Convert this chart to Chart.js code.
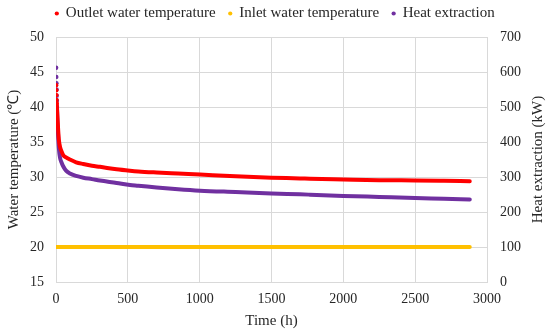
<!DOCTYPE html>
<html>
<head>
<meta charset="utf-8">
<script src="https://cdn.jsdelivr.net/npm/chart.js@4/dist/chart.umd.min.js"></script>
<style>
  html, body { margin: 0; padding: 0; background: #fff; }
  #wrap { width: 550px; height: 335px; position: relative; }
</style>
</head>
<body>
<div id="wrap"><canvas id="chart"></canvas></div>
<script>
// values
const outletTime = [1, 2, 3, 4, 5, 8, 12, 16, 20, 28, 40, 51, 70, 97, 140, 190, 250, 306, 422, 515, 573, 700, 850, 1002, 1250, 1500, 1698, 1768, 2000, 2250, 2500, 2700, 2880];
const outletTemp = [43.1, 42.4, 41.7, 41.0, 40.5, 39.3, 37.8, 36.4, 35.3, 34.3, 33.6, 33.1, 32.8, 32.5, 32.1, 31.85, 31.6, 31.45, 31.1, 30.9, 30.8, 30.65, 30.5, 30.35, 30.1, 29.9, 29.8, 29.75, 29.65, 29.55, 29.5, 29.45, 29.4];

const inletTime = [0, 2880];
const inletTemp = [20, 20];

const heatTime = [1, 2, 3, 4, 5, 6, 7, 9, 12, 16, 20, 28, 40, 51, 70, 97, 140, 190, 250, 306, 422, 515, 573, 700, 850, 1002, 1250, 1500, 1698, 1768, 2000, 2250, 2500, 2700, 2880];
const heatKW = [612, 586, 568, 550, 532, 518, 500, 470, 440, 408, 382, 355, 340, 330, 318, 310, 303, 298, 294, 290, 283, 277, 275, 270, 265, 261, 257, 253, 250.5, 249.5, 246, 243, 240, 238, 236];

const outletDots = 5;   // separate dots at the start
const heatDots = 7;

const RED = "#FF0000";
const ORANGE = "#FFC000";
const PURPLE = "#7030A0";
const GRID = "#D9D9D9";
const TEXT = "#262626";
const FONT = "'Liberation Serif', 'Times New Roman', serif";

Chart.defaults.font.family = FONT;
Chart.defaults.font.size = 14;
Chart.defaults.color = TEXT;

const toXY = (xs, ys) => xs.map((x, i) => ({ x: x, y: ys[i] }));

function dotSeries(label, xs, ys, color, axis, nDots) {
  return {
    label: label,
    data: toXY(xs, ys),
    yAxisID: axis,
    borderColor: color,
    backgroundColor: color,
    borderWidth: 4,
    borderCapStyle: "round",
    cubicInterpolationMode: "monotone",
    pointRadius: (ctx) => (ctx.dataIndex < nDots ? 2.2 : 0),
    pointBorderWidth: 0,
    pointBackgroundColor: color,
    segment: {
      borderColor: (ctx) => (ctx.p0DataIndex < nDots - 1 ? "rgba(0,0,0,0)" : undefined),
    },
  };
}

// right axis title reads bottom-to-top like the left one
const rightTitle = {
  id: "rightTitle",
  afterDraw(chart) {
    const area = chart.chartArea;
    const c = chart.ctx;
    c.save();
    c.translate(538, (area.top + area.bottom) / 2);
    c.rotate(-Math.PI / 2);
    c.font = "15px " + FONT;
    c.fillStyle = TEXT;
    c.textAlign = "center";
    c.textBaseline = "middle";
    c.fillText("Heat extraction (kW)", 0, 0);
    c.restore();
  },
};

// legend box height fixed so the plot starts where the reference does
const legendHeight = {
  id: "legendHeight",
  beforeUpdate(chart) {
    const lg = chart.legend;
    if (lg && !lg._patched) {
      const fit = lg.fit;
      lg.fit = function () {
        fit.call(this);
        this.height = 44;
      };
      lg._patched = true;
    }
  },
};

const ctx = document.getElementById("chart").getContext("2d");
new Chart(ctx, {
  type: "line",
  data: {
    datasets: [
      dotSeries("Outlet water temperature", outletTime, outletTemp, RED, "yT", outletDots),
      dotSeries("Inlet water temperature", inletTime, inletTemp, ORANGE, "yT", 0),
      dotSeries("Heat extraction", heatTime, heatKW, PURPLE, "yQ", heatDots),
    ],
  },
  options: {
    responsive: true,
    maintainAspectRatio: false,
    animation: false,
    layout: { padding: { top: -7, left: 0, right: 0, bottom: 0 } },
    scales: {
      x: {
        type: "linear",
        min: 0,
        max: 3000,
        ticks: { stepSize: 500, padding: 9, color: TEXT, maxRotation: 0, callback: (v) => String(v) },
        grid: { color: GRID, drawTicks: false },
        border: { color: GRID },
        title: { display: true, text: "Time (h)", color: TEXT, font: { size: 15 }, padding: { top: 0, bottom: 5 } },
        afterFit: (s) => { s.height = 53; },
      },
      yT: {
        position: "left",
        min: 15,
        max: 50,
        ticks: { stepSize: 5, padding: 12, color: TEXT },
        grid: { color: GRID, drawTicks: false },
        border: { color: GRID },
        title: { display: true, text: "Water temperature (\u2103)", color: TEXT, font: { size: 15 }, padding: { top: 5, bottom: 0 } },
        afterFit: (s) => { s.width = 56; },
      },
      yQ: {
        position: "right",
        min: 0,
        max: 700,
        ticks: { stepSize: 100, padding: 13, color: TEXT },
        grid: { display: false, drawTicks: false },
        border: { display: false },
        afterFit: (s) => { s.width = 63; },
      },
    },
    plugins: {
      legend: {
        position: "top",
        labels: {
          usePointStyle: true,
          pointStyle: "circle",
          boxWidth: 3,
          boxHeight: 3,
          padding: 13,
          color: TEXT,
          font: { size: 15 },
        },
      },
      tooltip: { enabled: false },
    },
  },
  plugins: [rightTitle, legendHeight],
});
</script>
</body>
</html>
